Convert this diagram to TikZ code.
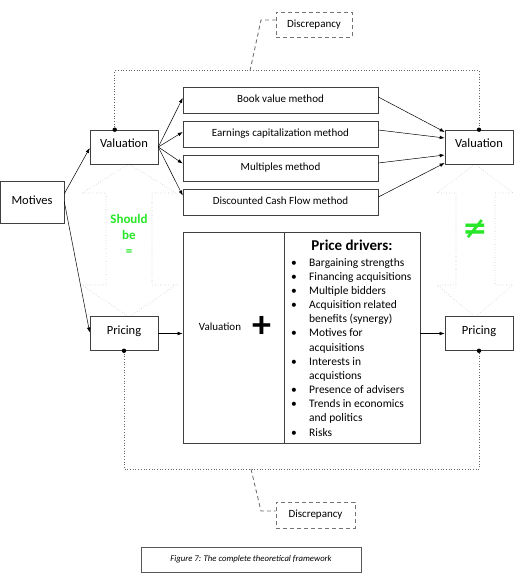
\documentclass[tikz,border=0pt]{standalone}
\usepackage{fontspec}
\setmainfont{Carlito}
\newfontfamily\symfont{DejaVu Sans}
\usetikzlibrary{arrows.meta,calc}
\definecolor{brightgreen}{RGB}{40,230,40}
\begin{document}
\begin{tikzpicture}[x=1pt,y=-1pt,
  box/.style={draw=black!75,line width=0.6pt,inner sep=0pt,minimum width=68pt,minimum height=34pt,text height=9pt,text depth=8pt,font=\fontsize{12.5}{14}\selectfont},
  mbox/.style={draw=black!75,line width=0.6pt,inner sep=0pt,minimum width=195pt,minimum height=26pt,text height=8pt,text depth=4pt,font=\fontsize{11}{13}\selectfont},
  arr/.style={-{Latex[length=5pt,width=3.6pt]},line width=0.5pt,black},
  dotl/.style={draw=black!60,dotted,line width=0.7pt},
  discbox/.style={draw=black!55,dash pattern=on 4pt off 3pt,line width=0.9pt,inner sep=0pt,font=\fontsize{11}{13}\selectfont},
  discline/.style={draw=black!55,dash pattern=on 4pt off 3pt,line width=0.9pt},
  bigarr/.style={draw=black!22,dotted,line width=0.6pt},
  greentext/.style={text=brightgreen,font=\fontsize{13}{16}\selectfont\bfseries,align=center}
]
\useasboundingbox (0,0) rectangle (519,587);

% big hollow double arrows
\draw[bigarr] (129,164) -- (176,193) -- (152,193) -- (152,285) -- (176,285) -- (129,317)
  -- (82,285) -- (106,285) -- (106,193) -- (82,193) -- cycle;
\draw[bigarr] (475,164) -- (513,193) -- (495,193) -- (495,285) -- (513,285) -- (475,317)
  -- (437,285) -- (456,285) -- (456,193) -- (437,193) -- cycle;

% nodes
\node[box, minimum width=64pt, minimum height=42pt, text depth=5pt] (motives) at (32,202) {Motives};
\node[box] (valL) at (124,147) {Valuation};
\node[box] (valR) at (479,147) {Valuation};
\node[box] (priL) at (124,333.5) {Pricing};
\node[box] (priR) at (479,333.5) {Pricing};

\node[mbox] (book) at (280.5,100.5) {Book value method};
\node[mbox] (earn) at (280.5,134.5) {Earnings capitalization method};
\node[mbox] (mult) at (280.5,168) {Multiples method};
\node[mbox] (dcf)  at (280.5,202) {Discounted Cash Flow method};

\node[draw=black!75,line width=0.6pt,minimum width=101pt,minimum height=211pt,inner sep=0pt] (cval) at (233.5,337.5) {};
\node[draw=black!75,line width=0.6pt,minimum width=136pt,minimum height=211pt,inner sep=0pt] (drivers) at (352,337.5) {};
\node[font=\fontsize{11}{13}\selectfont] (cvaltext) at (220,327) {Valuation};
\node[font=\fontsize{38}{38}\selectfont\bfseries,inner sep=0pt] (plus) at (262,327) {+};

\node[font=\fontsize{15}{17}\selectfont\bfseries] (pdtitle) at (352,245) {Price drivers:};
\node[anchor=base west,inner sep=0pt,font=\fontsize{11.5}{14.17}\selectfont] (pdlist) at (291,266)
 {\begin{tabular}[t]{@{}p{18pt}@{}l@{}}
 • & Bargaining strengths\\
 • & Financing acquisitions\\
 • & Multiple bidders\\
 • & Acquisition related\\
   & benefits (synergy)\\
 • & Motives for\\
   & acquisitions\\
 • & Interests in\\
   & acquistions\\
 • & Presence of advisers\\
 • & Trends in economics\\
   & and politics\\
 • & Risks
 \end{tabular}};

\node[greentext] (should) at (129,235) {Should\\be\\=};
\node[text=brightgreen,font=\symfont\fontsize{30}{30}\selectfont\bfseries,inner sep=0pt] (neq) at (475,229) {≠};

% connectors
\draw[arr] ($(motives.north east)+(0,13)$) -- ($(valL.west)+(0,1)$);
\draw[arr] ($(motives.north east)+(0,21)$) -- ($(priL.west)+(0,-1)$);

\draw[arr] (valL.east) -- ($(book.west)+(0,-2.5)$);
\draw[arr] (valL.east) -- ($(earn.west)+(0,-2.5)$);
\draw[arr] (valL.east) -- ($(mult.west)+(0,-4.5)$);
\draw[arr] (valL.east) -- ($(dcf.west)+(0,-6.5)$);

\draw[arr] ($(book.east)+(0,-3.5)$) -- ($(valR.west)+(0,-15)$);
\draw[arr] ($(earn.east)+(0,-4.5)$) -- ($(valR.west)+(0,-9)$);
\draw[arr] ($(mult.east)+(0,-5)$) -- ($(valR.west)+(0,8)$);
\draw[arr] ($(dcf.east)+(0,-5)$) -- ($(valR.west)+(0,16)$);

\draw[arr] (priL.east) -- (priL.east -| cval.west);
\draw[arr] (priR.west -| drivers.east) -- (priR.west);

% dotted discrepancy lines
\coordinate (tl) at ($(valL.north west)+(25,0)$);
\draw[dotl] (tl) -- (tl |- 0,70.7) -| (valR.north);
\fill (tl) circle (2.2pt);
\fill (valR.north) circle (2.2pt);
\draw[dotl] (priL.south) -- (priL.south |- 0,469) -| (priR.south);
\fill (priL.south) circle (2.2pt);
\fill (priR.south) circle (2.2pt);

% discrepancy boxes
\node[discbox,minimum width=76pt,minimum height=25pt] (disc1) at (314,24.5) {Discrepancy};
\node[discbox,minimum width=79pt,minimum height=26pt] (disc2) at (315.5,515) {Discrepancy};
\coordinate (dtop) at (250,70.7);
\coordinate (dbot) at (251,469);
\draw[discline] (dtop) -- (261,20) -- (disc1.west |- 0,20);
\draw[discline] (dbot) -- (261,511) -- (disc2.west |- 0,511);

% caption
\node[draw=black!65,line width=0.8pt,minimum width=220pt,minimum height=25pt,inner sep=0pt,font=\fontsize{8.7}{10}\selectfont\itshape] (caption) at (251,559.5) {Figure 7: The complete theoretical framework};
\end{tikzpicture}
\end{document}
